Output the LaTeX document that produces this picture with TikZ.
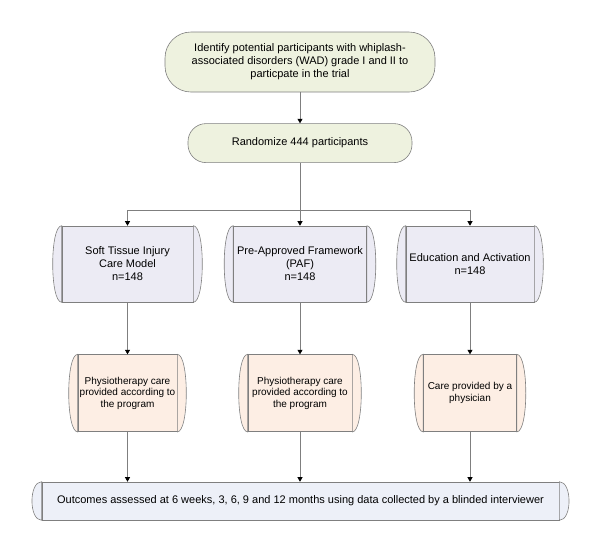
\documentclass[tikz,border=0pt]{standalone}
\usepackage{fontspec}
\setmainfont{Liberation Sans}
\usepackage{tikz}
\usetikzlibrary{positioning}
\usetikzlibrary{arrows.meta}

\definecolor{linegray}{HTML}{7F7F7F}
\definecolor{termfill}{HTML}{EEF2DF}
\definecolor{armfill}{HTML}{ECEBF4}
\definecolor{carefill}{HTML}{FDEEE4}
\definecolor{outfill}{HTML}{EDF0F8}

\tikzset{
	box line/.style={
		draw=linegray, line width=0.6pt
	},
	terminal/.style={
		box line, fill=termfill, align=center, inner sep=1pt,
		font=\fontsize{11}{13}\selectfont
	},
	arm/.style={
		box line, fill=armfill, align=center, inner sep=1pt,
		minimum height=76pt, font=\fontsize{11}{13}\selectfont
	},
	care/.style={
		box line, fill=carefill, align=center, inner sep=1pt,
		minimum height=77pt, font=\fontsize{10}{11.5}\selectfont
	},
	outcome/.style={
		box line, fill=outfill, align=center, inner sep=1pt,
		minimum width=517pt, minimum height=38pt, font=\fontsize{11}{13}\selectfont
	},
	link/.style={
		draw=linegray, line width=0.6pt
	},
	flow/.style={
		link, -{Triangle[width=5pt,length=4.5pt,color=black]}
	}
}
% curved end caps left and right of a box
\newcommand\sidecaps[3]{%
	\filldraw[box line, fill=#2] (#1.north west) .. controls +(-#3,0) and +(-#3,0) .. (#1.south west) -- cycle;
	\filldraw[box line, fill=#2] (#1.north east) .. controls +(#3,0) and +(#3,0) .. (#1.south east) -- cycle;
}

\begin{document}
\begin{tikzpicture}[x=1pt, y=-1pt, node distance=31pt]
	\useasboundingbox (0,0) rectangle (600,558);

	\node[terminal, minimum width=270pt, minimum height=60pt, rounded corners=26pt] (identify) at (300,62)
		{Identify potential participants with whiplash-\\associated disorders (WAD) grade I and II to\\particpate in the trial};
	\node[terminal, minimum width=224pt, minimum height=39pt, rounded corners=18pt, below=of identify] (randomize)
		{Randomize 444 participants};

	% study arms
	\node[arm, minimum width=131pt] (sticm) at (127.5,264) {Soft Tissue Injury\\Care Model\\n=148};
	\node[arm, minimum width=133pt] (paf) at (300,264) {Pre-Approved Framework\\(PAF)\\n=148};
	\node[arm, minimum width=128pt] (edact) at (470,264) {Education and Activation\\n=148};

	\node[care, minimum width=99pt, below=52pt of sticm] (physioA) {Physiotherapy care\\provided according to\\the program};
	\node[care, minimum width=104pt, below=52pt of paf] (physioB) {Physiotherapy care\\provided according to\\the program};
	\node[care, minimum width=93pt, below=52pt of edact] (physician) {Care provided by a\\physician};

	\node[outcome] (outcomes) at (300.5,501)
		{Outcomes assessed at 6 weeks, 3, 6, 9 and 12 months using data collected by a blinded interviewer};

	\foreach \n/\c/\b in {sticm/armfill/12, paf/armfill/12, edact/armfill/12,
		physioA/carefill/12, physioB/carefill/12, physician/carefill/12, outcomes/outfill/13}
		{\sidecaps{\n}{\c}{\b}}

	\coordinate (split) at (300,210);
	\draw[flow] (identify) -- (randomize);
	\draw[link] (randomize) -- (split);
	\draw[flow] (split) -| (sticm);
	\draw[flow] (split) -- (paf);
	\draw[flow] (split) -| (edact);

	\foreach \a/\b in {sticm/physioA, paf/physioB, edact/physician} {
		\draw[flow] (\a) -- (\b);
		\draw[flow] (\b) -- (\b |- outcomes.north);
	}
\end{tikzpicture}
\end{document}
